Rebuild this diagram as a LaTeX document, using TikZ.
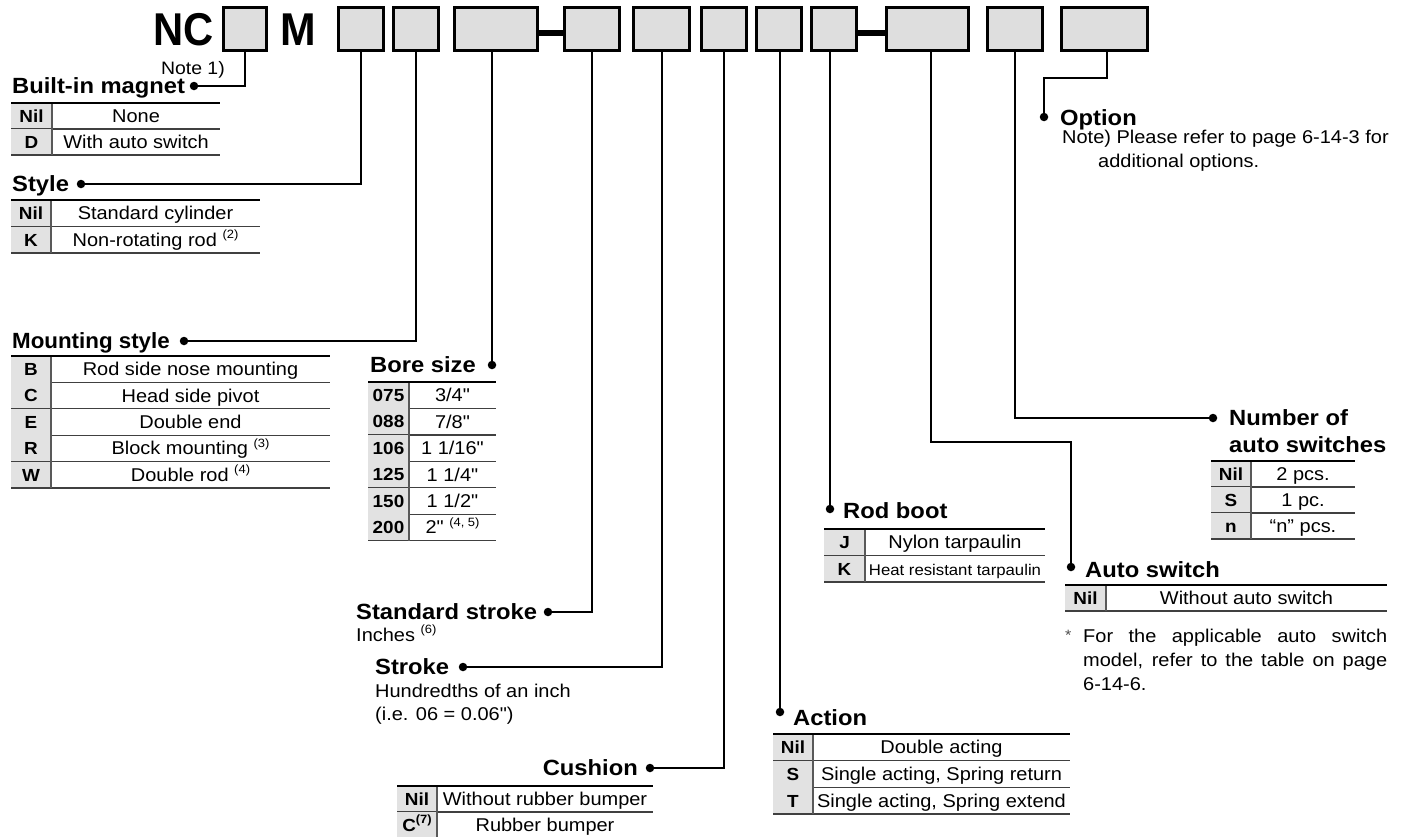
\documentclass[tikz,border=0pt]{standalone}
\usepackage{fontspec}
\setmainfont[FakeStretch=1.08, Ligatures=TeXOff]{Liberation Sans}
\usetikzlibrary{calc}
\definecolor{boxgray}{HTML}{DEDEDE}
\definecolor{keygray}{HTML}{E2E2E2}
\newcommand\mysup[1]{\raisebox{0.42em}{\fontsize{12}{12}\selectfont #1}}
\newcommand\qq{\symbol{34}}
\newcommand\trow[4]{%
  \fill[keyfill] (\tabX,#2) rectangle ++(\tabK,\tabH);
  \node[keytxt,anchor=base] (#1k) at ({\tabX+\tabK/2},{#2+\tabH/2+6.3}) {#3};
  \node[valtxt,anchor=base] (#1v) at ({\tabX+(\tabK+\tabW)/2},{#2+\tabH/2+6.5}) {#4};
  \draw[rowline] (\tabX,{#2+\tabH}) -- ++(\tabW,0);
  \draw[colline] ({\tabX+\tabK},#2) -- ++(0,\tabH);
}
\newcommand\ttop[1]{\draw[topline] (\tabX,#1) -- ++(\tabW,0);}
\begin{document}
\begin{tikzpicture}[x=1pt,y=-1pt,
  box/.style={draw, line width=2.6, fill=boxgray, inner sep=0, minimum height=43.5},
  conn/.style={line width=2},
  dashbar/.style={line width=6},
  dot/.style={circle, fill, inner sep=0, minimum size=8.5},
  hd/.style={font=\bfseries\fontsize{22}{24}\selectfont, inner sep=0},
  tx/.style={font=\fontsize{18.5}{22}\selectfont, inner sep=0},
  keytxt/.style={font=\bfseries\fontsize{17.5}{20}\selectfont, inner sep=0},
  valtxt/.style={tx},
  keyfill/.style={fill=keygray},
  rowline/.style={line width=1.3, draw=black!75},
  colline/.style={line width=1.3, draw=black!65},
  topline/.style={line width=2.6},
]
\useasboundingbox (0,0) rectangle (1403,836);

% title
\node[font=\bfseries\fontsize{46}{48}\selectfont, inner sep=0, anchor=base west, xscale=0.84] (nc) at (153,45) {NC};
\node[font=\bfseries\fontsize{46}{48}\selectfont, inner sep=0, anchor=base west, xscale=0.86] (mm) at (280,45) {M};

% boxes
\node[box, minimum width=43.5] (b1) at (245,29) {};
\node[box, minimum width=45.5] (b2) at (361,29) {};
\node[box, minimum width=45.5] (b3) at (416,29) {};
\node[box, minimum width=83.5] (b4) at (496,29) {};
\node[box, minimum width=55.5] (b5) at (592,29) {};
\node[box, minimum width=56.5] (b6) at (661.5,29) {};
\node[box, minimum width=45.5] (b7) at (724,29) {};
\node[box, minimum width=45.5] (b8) at (779,29) {};
\node[box, minimum width=45.5] (b9) at (834,29) {};
\node[box, minimum width=82.5] (b10) at (927.5,29) {};
\node[box, minimum width=55.5] (b11) at (1015,29) {};
\node[box, minimum width=86.5] (b12) at (1104.5,29) {};
\draw[dashbar] ([yshift=-4pt]b4.east) -- ([yshift=-4pt]b5.west);
\draw[dashbar] ([yshift=-4pt]b9.east) -- ([yshift=-4pt]b10.west);

% headings and dots
\node[dot] (d1) at (194,86) {};
\node[hd, anchor=base west] (h1) at (12,93) {Built-in magnet};
\node[tx, anchor=base east, font=\fontsize{18}{20}\selectfont] (n1) at (225,74) {Note 1)};

\node[dot] (d2) at (81,184) {};
\node[hd, anchor=base west] (h2) at (12,191) {Style};

\node[dot] (d3) at (184,341) {};
\node[hd, anchor=base west, xscale=0.94] (h3) at (12,348) {Mounting style};

\node[dot] (d4) at (492,365) {};
\node[hd, anchor=base west] (h4) at (370,372) {Bore size};

\node[dot] (d5) at (548,612) {};
\node[hd, anchor=base west] (h5) at (356,619) {Standard stroke};
\node[tx, anchor=base west] (t5) at (356,641) {Inches \mysup{(6)}};

\node[dot] (d6) at (463,667) {};
\node[hd, anchor=base west] (h6) at (375,674) {Stroke};
\node[tx, anchor=base west] (t6a) at (375,697) {Hundredths of an inch};
\node[tx, anchor=base west] (t6b) at (375,720) {(i.e. 06 = 0.06\qq)};

\node[dot] (d7) at (650,768) {};
\node[hd, anchor=base east] (h7) at (638,775) {Cushion};

\node[dot] (d8) at (780,712) {};
\node[hd, anchor=base west] (h8) at (793,725) {Action};

\node[dot] (d9) at (830,509) {};
\node[hd, anchor=base west] (h9) at (843,518) {Rod boot};

\node[dot] (d10) at (1071,567) {};
\node[hd, anchor=base west] (h10) at (1085,577) {Auto switch};

\node[dot] (d11) at (1213,418) {};
\node[hd, anchor=base west] (h11a) at (1229,425) {Number of};
\node[hd, anchor=base west] (h11b) at (1229,452) {auto switches};

\node[dot] (d12) at (1044,117) {};
\node[hd, anchor=base west] (h12) at (1060,125) {Option};
\node[tx, anchor=base west] (t12a) at (1062,143) {Note) Please refer to page 6-14-3 for};
\node[tx, anchor=base west] (t12b) at (1098,167) {additional options.};

% connectors
\coordinate (k10) at (1071,442);
\coordinate (k12) at (1044,78);
\draw[conn] (b1.south) |- (d1);
\draw[conn] (b2.south) |- (d2);
\draw[conn] (b3.south) |- (d3);
\draw[conn] (d4 |- b4.south) -- (d4);
\draw[conn] (b5.south) |- (d5);
\draw[conn] (b6.south) |- (d6);
\draw[conn] (b7.south) |- (d7);
\draw[conn] (d8 |- b8.south) -- (d8);
\draw[conn] (d9 |- b9.south) -- (d9);
\draw[conn] ([xshift=3pt]b10.south) |- (k10) -- (d10);
\draw[conn] (b11.south) |- (d11);
\draw[conn] ([xshift=2.5pt]b12.south) |- (k12) -- (d12);

% table: built-in magnet
\def\tabX{11}\def\tabK{41}\def\tabW{209}\def\tabH{26}
\trow{ma}{103}{Nil}{None}
\trow{mb}{129}{D}{With auto switch}
\ttop{103}

% table: style
\def\tabX{11}\def\tabK{40}\def\tabW{249}\def\tabH{26.5}
\trow{sa}{200}{Nil}{Standard cylinder}
\trow{sb}{226.5}{K}{Non-rotating rod \mysup{(2)}}
\ttop{200}

% table: mounting style
\def\tabX{11}\def\tabK{40}\def\tabW{319}\def\tabH{26.4}
\trow{ua}{356}{B}{Rod side nose mounting}
\trow{ub}{382.4}{C}{Head side pivot}
\trow{uc}{408.8}{E}{Double end}
\trow{ud}{435.2}{R}{Block mounting \mysup{(3)}}
\trow{ue}{461.6}{W}{Double rod \mysup{(4)}}
\ttop{356}

% table: bore size
\def\tabX{368}\def\tabK{41}\def\tabW{128}\def\tabH{26.45}
\trow{ra}{382}{075}{3/4\qq}
\trow{rb}{408.45}{088}{7/8\qq}
\trow{rc}{434.9}{106}{1 1/16\qq}
\trow{rd}{461.35}{125}{1 1/4\qq}
\trow{re}{487.8}{150}{1 1/2\qq}
\trow{rf}{514.25}{200}{2\qq{} \mysup{(4, 5)}}
\ttop{382}

% table: cushion
\def\tabX{397}\def\tabK{40}\def\tabW{256}\def\tabH{26}
\trow{ca}{786}{Nil}{Without rubber bumper}
\trow{cb}{812}{C\mysup{(7)}}{Rubber bumper}
\ttop{786}

% table: rod boot
\def\tabX{824}\def\tabK{41}\def\tabW{221}\def\tabH{26.5}
\trow{oa}{529}{J}{Nylon tarpaulin}
\trow{ob}{555.5}{K}{\fontsize{15.5}{18}\selectfont Heat resistant tarpaulin}
\ttop{529}

% table: action
\def\tabX{773}\def\tabK{40}\def\tabW{297}\def\tabH{26.7}
\trow{aa}{734}{Nil}{Double acting}
\trow{ab}{760.7}{S}{Single acting, Spring return}
\trow{ac}{787.4}{T}{Single acting, Spring extend}
\ttop{734}

% table: number of auto switches
\def\tabX{1211}\def\tabK{40}\def\tabW{144}\def\tabH{26}
\trow{na}{461}{Nil}{2 pcs.}
\trow{nb}{487}{S}{1 pc.}
\trow{nc}{513}{n}{“n” pcs.}
\ttop{461}

% table: auto switch
\def\tabX{1065}\def\tabK{41}\def\tabW{322}\def\tabH{26}
\trow{wa}{585}{Nil}{Without auto switch}
\ttop{585}

\node[tx, anchor=base west, font=\fontsize{15}{15}\selectfont, text=black!70] (ast) at (1065,640) {*};
\node[tx, anchor=base west] (an1) at (1083,642) {\makebox[304pt][s]{For the applicable auto switch}};
\node[tx, anchor=base west] (an2) at (1083,666) {\makebox[304pt][s]{model, refer to the table on page}};
\node[tx, anchor=base west] (an3) at (1083,690) {6-14-6.};
\end{tikzpicture}
\end{document}
